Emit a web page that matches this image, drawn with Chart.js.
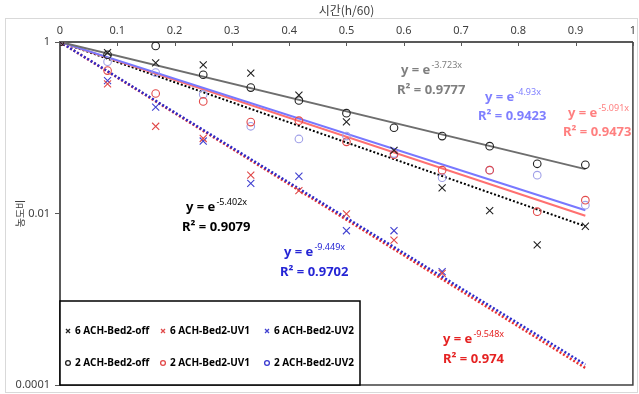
<!DOCTYPE html>
<html>
<head>
<meta charset="utf-8">
<script src="https://cdn.jsdelivr.net/npm/chart.js@4.4.1/dist/chart.umd.min.js"></script>
<style>
  html, body { margin: 0; padding: 0; background: #fff; }
  #wrap { width: 639px; height: 394px; }
</style>
</head>
<body>
<div id="wrap"><canvas id="chart" width="639" height="394"></canvas></div>
<script>
// sampling times (h/60)
const times = [0, 0.083, 0.167, 0.25, 0.333, 0.417, 0.5, 0.583, 0.667, 0.75, 0.833, 0.917];

// concentration ratios
const ach6Off = [1, 0.75, 0.57, 0.54, 0.433, 0.24, 0.117, 0.0545, 0.0199, 0.0108, 0.0043, 0.0071];
const ach6Uv1 = [1, 0.325, 0.104, 0.075, 0.028, 0.0185, 0.0099, 0.0049, 0.0020];
const ach6Uv2 = [1, 0.355, 0.174, 0.07, 0.0225, 0.0272, 0.0063, 0.0063, 0.0021];
const ach2Off = [1, 0.71, 0.90, 0.415, 0.294, 0.208, 0.148, 0.100, 0.080, 0.061, 0.038, 0.037];
const ach2Uv1 = [1, 0.464, 0.251, 0.203, 0.1165, 0.121, 0.0685, 0.0485, 0.032, 0.032, 0.0105, 0.0143];
const ach2Uv2 = [1, 0.59, 0.44, 0.245, 0.104, 0.074, 0.080, 0.050, 0.0262, 0.032, 0.028, 0.0125];

// exponential trend lines, start and end values
const fitTimes = [0, 0.917];
const fit2Off = [1, 0.0329];
const fit2Uv2 = [1, 0.0109];
const fit2Uv1 = [1, 0.0094];
const fit6Off = [1, 0.0071];
const fit6Uv2 = [1, 0.000173];
const fit6Uv1 = [1, 0.000158];

const seriesNames = ['6 ACH-Bed2-off', '6 ACH-Bed2-UV1', '6 ACH-Bed2-UV2',
                     '2 ACH-Bed2-off', '2 ACH-Bed2-UV1', '2 ACH-Bed2-UV2'];

const eqExponents = ['-3.723x', '-4.93x', '-5.091x', '-5.402x', '-9.449x', '-9.548x'];
const eqR2 = ['0.9777', '0.9423', '0.9473', '0.9079', '0.9702', '0.974'];

const xTickStep = 0.1;
const yTicks = [0.0001, 0.01, 1];
const yTickLabels = ['0.0001', '0.01', '1'];

const toPoints = (ys, xs) => ys.map((y, i) => ({ x: xs[i], y }));

const markerSet = (label, data, color, style, radius, legendColor) => ({
    label,
    data: toPoints(data, times),
    pointStyle: style,
    pointRadius: radius,
    pointHoverRadius: radius,
    pointBorderColor: color,
    pointBackgroundColor: 'rgba(0,0,0,0)',
    pointBorderWidth: 1.1,
    borderColor: color,
    legendColor: legendColor || color,
    showLine: false,
    order: 1,
});

const fitSet = (data, color, width, dash) => ({
    label: '',
    data: toPoints(data, fitTimes),
    showLine: true,
    borderColor: color,
    borderWidth: width,
    borderDash: dash,
    pointRadius: 0,
    fill: false,
    order: 2,
});

// equation labels: colour and position (left x, centre y of each line)
const eqStyle = [
    { color: '#7f7f7f', yx: 401, yy: 70, rx: 397, ry: 90 },
    { color: '#7f7fff', yx: 485, yy: 97, rx: 478, ry: 116 },
    { color: '#ff7f7f', yx: 568, yy: 113, rx: 563, ry: 132 },
    { color: '#000000', yx: 186, yy: 207, rx: 182, ry: 227 },
    { color: '#2525d5', yx: 284, yy: 252, rx: 280, ry: 272 },
    { color: '#e52222', yx: 443, yy: 339, rx: 443, ry: 359 },
];

const decorPlugin = {
    id: 'decor',
    beforeDraw(chart) {
        const ctx = chart.ctx;
        ctx.save();
        ctx.fillStyle = '#fff';
        ctx.fillRect(0, 0, chart.width, chart.height);
        ctx.strokeStyle = '#d9d9d9';
        ctx.lineWidth = 1;
        ctx.strokeRect(5.5, 18.5, 632, 374);
        ctx.restore();
    },
    afterDraw(chart) {
        const ctx = chart.ctx;
        const a = chart.chartArea;
        const xs = chart.scales.x;
        ctx.save();

        // frame right + bottom
        ctx.strokeStyle = '#404040';
        ctx.lineWidth = 1.5;
        ctx.beginPath();
        ctx.moveTo(a.left, a.bottom);
        ctx.lineTo(a.right, a.bottom);
        ctx.lineTo(a.right, a.top);
        ctx.stroke();

        // inward tick marks on the top axis
        ctx.strokeStyle = '#595959';
        ctx.lineWidth = 1;
        for (let v = xTickStep; v < 1; v += xTickStep) {
            const px = Math.round(xs.getPixelForValue(v)) + 0.5;
            ctx.beginPath();
            ctx.moveTo(px, a.top);
            ctx.lineTo(px, a.top + 4);
            ctx.stroke();
        }

        // trend equations
        ctx.textBaseline = 'middle';
        ctx.textAlign = 'left';
        eqStyle.forEach((s, i) => {
            ctx.fillStyle = s.color;
            ctx.font = 'bold 13px "Noto Sans"';
            ctx.fillText('y = e', s.yx, s.yy);
            const w = ctx.measureText('y = e').width;
            ctx.font = '9px "Noto Sans"';
            ctx.fillText(eqExponents[i], s.yx + w + 1, s.yy - 5);
            ctx.font = 'bold 13px "Noto Sans"';
            ctx.fillText('R\u00b2 = ' + eqR2[i], s.rx, s.ry);
        });

        // legend box
        const lx = a.left, ly = 301, lw = 300, lh = a.bottom - 301;
        ctx.fillStyle = '#fff';
        ctx.fillRect(lx, ly, lw, lh);
        ctx.strokeStyle = '#000';
        ctx.lineWidth = 1.5;
        ctx.strokeRect(lx, ly, lw, lh);

        const colX = [68, 163, 267];
        const rowY = [331, 363];
        ctx.font = 'bold 10px "Noto Sans"';
        chart.data.datasets.slice(0, 6).forEach((ds, i) => {
            const mx = colX[i % 3], my = rowY[Math.floor(i / 3)];
            ctx.strokeStyle = ds.legendColor;
            ctx.lineWidth = 1.3;
            ctx.beginPath();
            if (ds.pointStyle === 'crossRot') {
                ctx.moveTo(mx - 2, my - 2); ctx.lineTo(mx + 2, my + 2);
                ctx.moveTo(mx - 2, my + 2); ctx.lineTo(mx + 2, my - 2);
            } else {
                ctx.arc(mx, my, 2.4, 0, Math.PI * 2);
            }
            ctx.stroke();
            ctx.fillStyle = '#000';
            ctx.fillText(ds.label, mx + 7, my);
        });
        ctx.restore();
    }
};

new Chart(document.getElementById('chart'), {
    type: 'scatter',
    data: {
        datasets: [
            markerSet(seriesNames[0], ach6Off, '#222222', 'crossRot', 5),
            markerSet(seriesNames[1], ach6Uv1, '#e04848', 'crossRot', 5),
            markerSet(seriesNames[2], ach6Uv2, '#4040d0', 'crossRot', 5),
            markerSet(seriesNames[3], ach2Off, '#222222', 'circle', 3.8),
            markerSet(seriesNames[4], ach2Uv1, '#e34a4a', 'circle', 3.8),
            markerSet(seriesNames[5], ach2Uv2, '#a0a0e8', 'circle', 3.8, '#3a3ad0'),
            fitSet(fit2Off, '#6e6e6e', 2, []),
            fitSet(fit2Uv2, '#7878ff', 2, []),
            fitSet(fit2Uv1, '#ff7070', 2, []),
            fitSet(fit6Off, '#000000', 2, [2, 2]),
            fitSet(fit6Uv2, '#2c2ccc', 2.5, [2, 2]),
            fitSet(fit6Uv1, '#e83030', 2.5, [2, 2]),
        ],
    },
    options: {
        responsive: false,
        animation: false,
        devicePixelRatio: 1,
        layout: { padding: { left: 0, right: 3, top: 0, bottom: 9 } },
        plugins: {
            legend: { display: false },
            tooltip: { enabled: false },
        },
        scales: {
            x: {
                type: 'linear',
                position: 'top',
                min: 0,
                max: 1,
                grid: { display: false },
                border: { display: true, color: '#595959', width: 2 },
                ticks: {
                    stepSize: xTickStep,
                    autoSkip: false,
                    maxRotation: 0,
                    padding: -3,
                    color: '#404040',
                    font: { family: 'Noto Sans', size: 11 },
                    callback: (v) => String(Math.round(v * 10) / 10),
                },
                title: {
                    display: true,
                    text: '시간(h/60)',
                    color: '#404040',
                    font: { family: 'Noto Sans CJK KR', size: 12 },
                    padding: { top: 3, bottom: 0 },
                },
                afterFit: (scale) => {
                    scale.height = 42;
                    scale.paddingLeft = 0;
                    scale.paddingRight = 0;
                },
            },
            y: {
                type: 'logarithmic',
                min: 0.0001,
                max: 1,
                grid: { drawOnChartArea: false, drawTicks: true, tickLength: 5, color: '#595959' },
                border: { display: true, color: '#595959', width: 2 },
                afterBuildTicks: (scale) => { scale.ticks = yTicks.map((v) => ({ value: v })); },
                ticks: {
                    padding: 5,
                    color: '#404040',
                    font: { family: 'Noto Sans', size: 11 },
                    callback: (v) => yTickLabels[yTicks.indexOf(v)] ?? '',
                },
                title: {
                    display: true,
                    text: '농도비',
                    color: '#404040',
                    font: { family: 'Noto Sans CJK KR', size: 10 },
                    padding: { top: 14, bottom: 0 },
                },
                afterFit: (scale) => {
                    scale.width = 60;
                    scale.paddingTop = 0;
                    scale.paddingBottom = 0;
                },
            },
        },
    },
    plugins: [decorPlugin],
});
</script>
</body>
</html>
